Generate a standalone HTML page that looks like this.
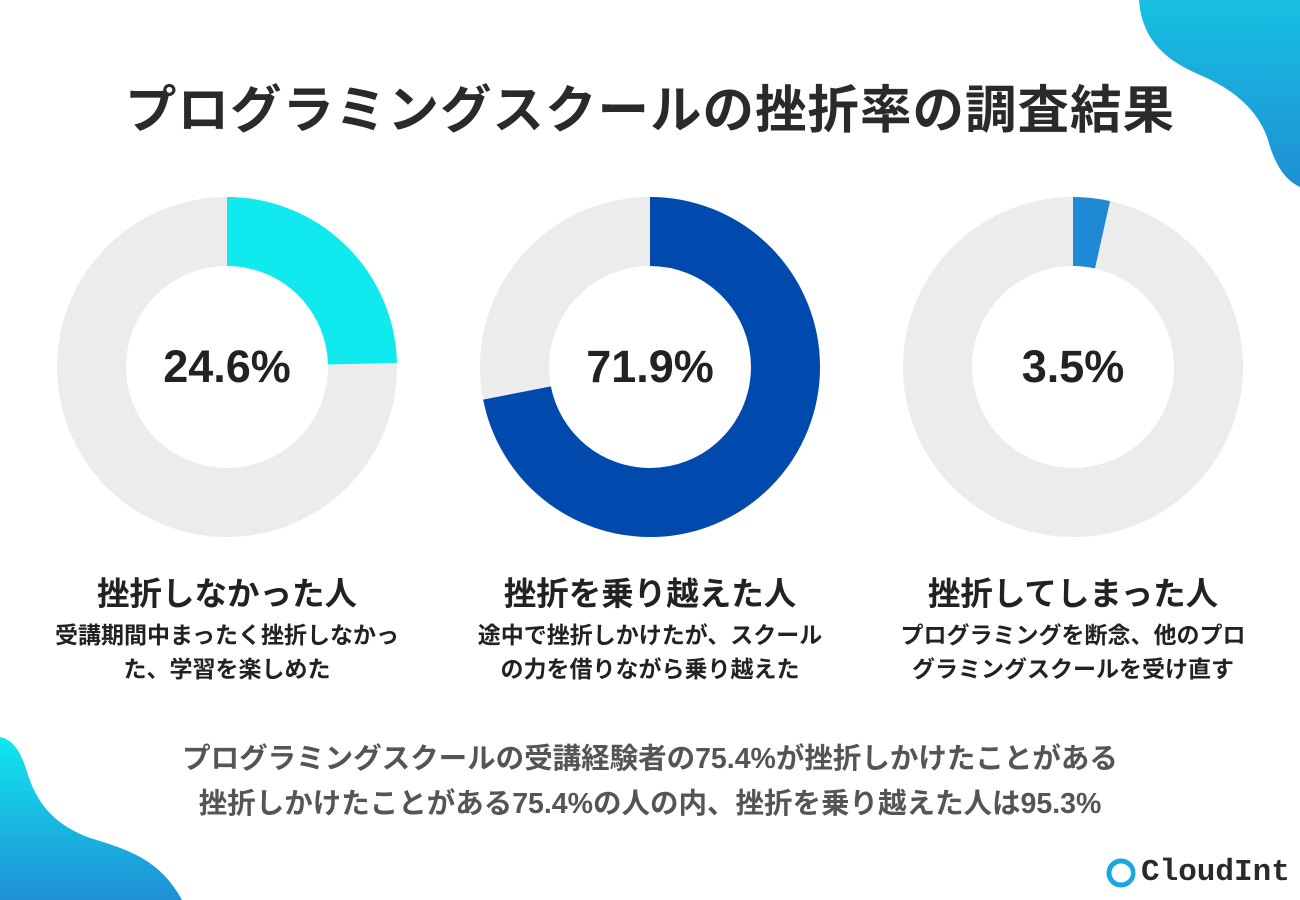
<!DOCTYPE html>
<html><head><meta charset="utf-8"><style>
body{margin:0;width:1300px;height:900px;overflow:hidden;background:#fff;font-family:"Liberation Sans","Noto Sans CJK JP",sans-serif;position:relative}
.t{position:absolute;left:0;width:1300px;text-align:center;font-weight:bold;white-space:nowrap}
.c{position:absolute;text-align:center;font-weight:bold;white-space:nowrap;color:#222}
</style></head><body>
<svg width="1300" height="900" style="position:absolute;left:0;top:0">
<defs>
<linearGradient id="g1" x1="0" y1="0" x2="0" y2="1"><stop offset="0" stop-color="#17c0e2"/><stop offset="1" stop-color="#1f8fd4"/></linearGradient>
<linearGradient id="g2" x1="0" y1="0" x2="0" y2="1"><stop offset="0" stop-color="#10e8ee"/><stop offset="1" stop-color="#1f8fd4"/></linearGradient>
</defs>
<path d="M1139,0 C1142,40 1165,60 1200,75 C1240,92 1260,115 1268,140 C1275,165 1285,180 1300,187 L1300,0 Z" fill="url(#g1)"/>
<path d="M0,737 C15,740 22,755 28,775 C38,805 55,825 90,838 C130,850 160,860 182,900 L0,900 Z" fill="url(#g2)"/>
<g fill="none" stroke-width="69">
<circle cx="227" cy="367" r="135.5" stroke="#ececec"/>
<circle cx="227" cy="367" r="135.5" stroke="#10eaee" stroke-dasharray="209.4 1000" transform="rotate(-90 227 367)"/>
<circle cx="650" cy="367" r="135.5" stroke="#ececec"/>
<circle cx="650" cy="367" r="135.5" stroke="#0049ad" stroke-dasharray="612.1 1000" transform="rotate(-90 650 367)"/>
<circle cx="1073" cy="367" r="135.5" stroke="#ececec"/>
<circle cx="1073" cy="367" r="135.5" stroke="#2089d6" stroke-dasharray="29.8 1000" transform="rotate(-90 1073 367)"/>
</g>
<circle cx="1121" cy="873" r="12" fill="none" stroke="#1aa6e0" stroke-width="5"/>
<circle cx="1122" cy="873" r="8" fill="none" stroke="#fff" stroke-width="2"/>
</svg>
<div class="t" style="top:68px;font-size:51.5px;color:#2a2a2a;letter-spacing:1px">プログラミングスクールの挫折率の調査結果</div>
<div class="c" style="left:127px;width:200px;top:341px;font-size:45px">24.6%</div>
<div class="c" style="left:550px;width:200px;top:341px;font-size:45px">71.9%</div>
<div class="c" style="left:973px;width:200px;top:341px;font-size:45px">3.5%</div>
<div class="c" style="left:27px;width:400px;top:568px;font-size:32.5px">挫折しなかった人</div>
<div class="c" style="left:450px;width:400px;top:568px;font-size:32.5px">挫折を乗り越えた人</div>
<div class="c" style="left:873px;width:400px;top:568px;font-size:32.5px">挫折してしまった人</div>
<div class="c" style="left:27px;width:400px;top:618px;font-size:23px;line-height:34px">受講期間中まったく挫折しなかっ<br>た、学習を楽しめた</div>
<div class="c" style="left:450px;width:400px;top:618px;font-size:23px;line-height:34px">途中で挫折しかけたが、スクール<br>の力を借りながら乗り越えた</div>
<div class="c" style="left:873px;width:400px;top:618px;font-size:23px;line-height:34px">プログラミングを断念、他のプロ<br>グラミングスクールを受け直す</div>
<div class="t" style="top:736px;font-size:28.5px;color:#555">プログラミングスクールの受講経験者の75.4%が挫折しかけたことがある</div>
<div class="t" style="top:781px;font-size:28.5px;color:#555">挫折しかけたことがある75.4%の人の内、挫折を乗り越えた人は95.3%</div>
<div class="c" style="left:1141px;top:855px;font-size:31px;font-family:'Liberation Mono',monospace;color:#2a2a2a">CloudInt</div>
</body></html>
